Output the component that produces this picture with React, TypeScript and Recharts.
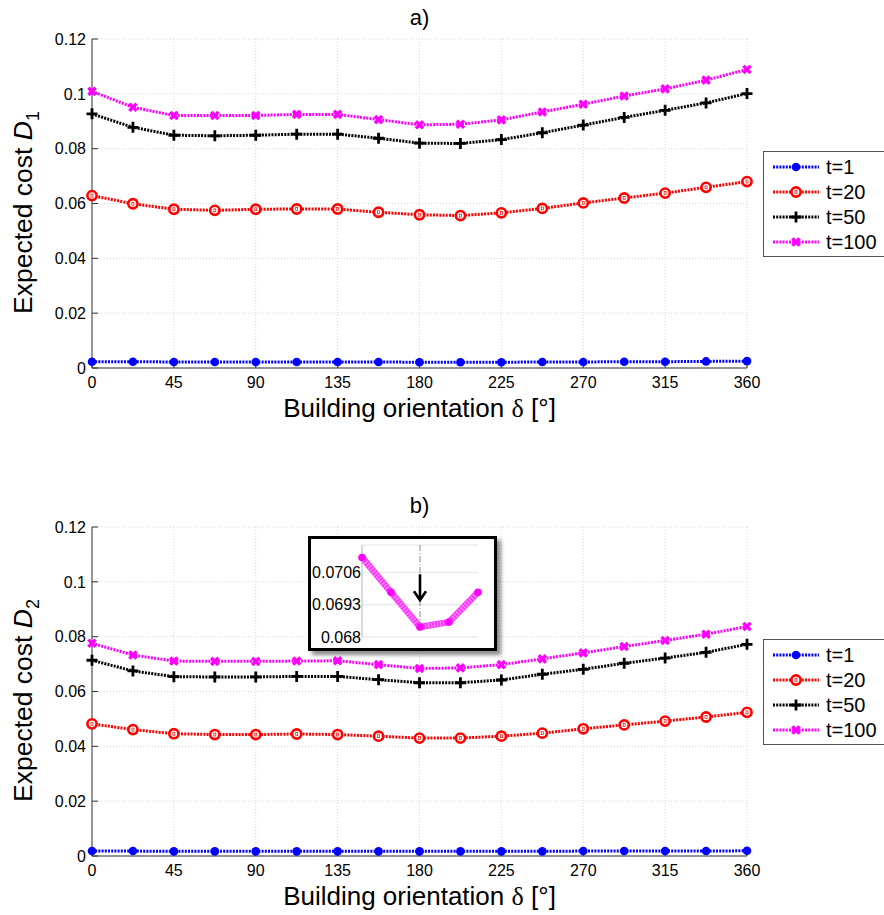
import {
  LineChart,
  Line,
  XAxis,
  YAxis,
  CartesianGrid,
  Legend,
  Label,
  ReferenceLine,
  ReferenceDot,
} from "recharts";

// orientation angles (deg)
const angles = [0, 22.5, 45, 67.5, 90, 112.5, 135, 157.5, 180, 202.5, 225, 247.5, 270, 292.5, 315, 337.5, 360];

// panel a) expected cost D1
const d1T1 = [0.0023, 0.0023, 0.0022, 0.0022, 0.0022, 0.0022, 0.0022, 0.0022, 0.0021, 0.0021, 0.0021, 0.0022, 0.0022, 0.0023, 0.0023, 0.0024, 0.0025];
const d1T20 = [0.0629, 0.0599, 0.0579, 0.0575, 0.0579, 0.058, 0.058, 0.0568, 0.0559, 0.0556, 0.0566, 0.0582, 0.0602, 0.062, 0.0638, 0.0659, 0.068];
const d1T50 = [0.0927, 0.0878, 0.0849, 0.0847, 0.0849, 0.0853, 0.0853, 0.0838, 0.082, 0.0819, 0.0833, 0.0858, 0.0886, 0.0914, 0.094, 0.0967, 0.1001];
const d1T100 = [0.1009, 0.0951, 0.0921, 0.0921, 0.0921, 0.0925, 0.0925, 0.0906, 0.0887, 0.0889, 0.0905, 0.0934, 0.0962, 0.0992, 0.1018, 0.105, 0.1089];

// panel b) expected cost D2
const d2T1 = [0.0018, 0.0018, 0.0017, 0.0017, 0.0017, 0.0017, 0.0017, 0.0017, 0.0017, 0.0017, 0.0017, 0.0017, 0.0018, 0.0018, 0.0018, 0.0018, 0.0019];
const d2T20 = [0.0482, 0.0461, 0.0446, 0.0443, 0.0443, 0.0445, 0.0443, 0.0437, 0.043, 0.043, 0.0437, 0.0448, 0.0464, 0.0478, 0.0492, 0.0507, 0.0524];
const d2T50 = [0.0714, 0.0675, 0.0654, 0.0653, 0.0653, 0.0655, 0.0655, 0.0643, 0.0632, 0.0632, 0.0642, 0.0663, 0.0681, 0.0703, 0.0722, 0.0743, 0.0772];
const d2T100 = [0.0776, 0.0733, 0.0711, 0.071, 0.071, 0.0711, 0.0712, 0.0698, 0.0684, 0.0686, 0.0698, 0.0719, 0.0741, 0.0764, 0.0786, 0.0809, 0.0837];

const xTicks = [0, 45, 90, 135, 180, 225, 270, 315, 360];
const yTicks = [0, 0.02, 0.04, 0.06, 0.08, 0.1, 0.12];

// zoom window of panel b
const insetFrom = 135;
const insetTo = 225;
const insetTicks = [0.068, 0.0693, 0.0706];
const insetMinAngle = 180;

const FONT = "'Liberation Sans', Arial, Helvetica, sans-serif";
const AXIS = "#333";

type MarkerKind = "dot" | "ring" | "plus" | "cross";

const SERIES: { key: string; name: string; color: string; marker: MarkerKind }[] = [
  { key: "t1", name: "t=1", color: "#0000ff", marker: "dot" },
  { key: "t20", name: "t=20", color: "#ff0000", marker: "ring" },
  { key: "t50", name: "t=50", color: "#000000", marker: "plus" },
  { key: "t100", name: "t=100", color: "#ff00ff", marker: "cross" },
];

function toRows(t1: number[], t20: number[], t50: number[], t100: number[]) {
  return angles.map((angle, i) => ({ angle, t1: t1[i], t20: t20[i], t50: t50[i], t100: t100[i] }));
}

const rowsA = toRows(d1T1, d1T20, d1T50, d1T100);
const rowsB = toRows(d2T1, d2T20, d2T50, d2T100);
const insetRows = rowsB.filter((r) => r.angle >= insetFrom && r.angle <= insetTo);

function Marker({ kind, color, cx, cy }: { kind: MarkerKind; color: string; cx: number; cy: number }) {
  if (cx == null || cy == null) return null;
  if (kind === "dot") return <circle cx={cx} cy={cy} r={4.3} fill={color} />;
  if (kind === "ring")
    return (
      <g>
        <circle cx={cx} cy={cy} r={4.6} fill="#fff" stroke={color} strokeWidth={2.6} />
        <rect x={cx - 1} y={cy - 1.5} width={2} height={3} fill="none" stroke={color} strokeWidth={0.7} />
      </g>
    );
  if (kind === "plus")
    return (
      <path d={`M${cx - 5.5},${cy}H${cx + 5.5}M${cx},${cy - 5.5}V${cy + 5.5}`} stroke={color} strokeWidth={2.8} />
    );
  return (
    <path
      d={`M${cx - 3.6},${cy - 3.6}L${cx + 3.6},${cy + 3.6}M${cx + 3.6},${cy - 3.6}L${cx - 3.6},${cy + 3.6}`}
      stroke={color}
      strokeWidth={3.4}
    />
  );
}

function BottomTick(p: any) {
  return (
    <text x={p.x} y={p.y} dy="0.71em" textAnchor="middle" fontSize={16} fontFamily={FONT} fill="#000">
      {p.payload.value}
    </text>
  );
}

function LeftTick(p: any) {
  return (
    <text x={p.x} y={p.y} dy="0.355em" textAnchor="end" fontSize={16} fontFamily={FONT} fill="#000">
      {String(p.payload.value)}
    </text>
  );
}

function LegendBox() {
  return (
    <div
      style={{
        width: 130,
        height: 106,
        boxSizing: "border-box",
        border: "1.5px solid #555",
        background: "#fff",
        paddingTop: 2,
        fontFamily: FONT,
      }}
    >
      {SERIES.map((s) => (
        <div key={s.key} style={{ display: "flex", alignItems: "center", height: 25, paddingLeft: 9 }}>
          <svg width={46} height={14} style={{ display: "block" }}>
            <line x1={0} y1={7} x2={46} y2={7} stroke={s.color} strokeWidth={3} strokeDasharray="2 1.2" />
            <Marker kind={s.marker} color={s.color} cx={23} cy={7} />
          </svg>
          <span style={{ fontSize: 20, marginLeft: 7, color: "#000", lineHeight: "20px" }}>{s.name}</span>
        </div>
      ))}
    </div>
  );
}

function Panel({ rows, sub }: { rows: typeof rowsA; sub: string }) {
  return (
    <LineChart width={884} height={427} data={rows} margin={{ top: 39, right: 137, bottom: 29, left: 32 }}>
      <CartesianGrid stroke="#d6d6d6" strokeDasharray="1 2" />
      <XAxis
        dataKey="angle"
        type="number"
        domain={[0, 360]}
        ticks={xTicks}
        interval={0}
        tickSize={-6}
        tickMargin={15}
        height={30}
        stroke={AXIS}
        tick={BottomTick}
      >
        <Label
          content={(p: any) => {
            const vb = p.viewBox;
            return (
              <text x={vb.x + vb.width / 2} y={vb.y + 48.5} textAnchor="middle" fontSize={26} fontFamily={FONT} fill="#000">
                Building orientation <tspan fontFamily="'Liberation Serif', serif">δ</tspan> [°]
              </text>
            );
          }}
        />
      </XAxis>
      <XAxis
        xAxisId="top"
        orientation="top"
        dataKey="angle"
        type="number"
        domain={[0, 360]}
        ticks={xTicks}
        interval={0}
        tick={false}
        tickSize={-6}
        height={0}
        stroke={AXIS}
      />
      <YAxis
        type="number"
        domain={[0, 0.12]}
        ticks={yTicks}
        interval={0}
        tickSize={-6}
        tickMargin={12}
        width={60}
        stroke={AXIS}
        tick={LeftTick}
      >
        <Label
          content={(p: any) => {
            const vb = p.viewBox;
            const bx = vb.x;
            const cy = vb.y + vb.height / 2 + 9;
            return (
              <text
                x={bx}
                y={cy}
                transform={`rotate(-90 ${bx} ${cy})`}
                textAnchor="middle"
                fontSize={26.5}
                fontFamily={FONT}
                fill="#000"
              >
                Expected cost <tspan fontStyle="italic">D</tspan>
                <tspan fontSize={18} dy={7}>
                  {sub}
                </tspan>
              </text>
            );
          }}
        />
      </YAxis>
      <YAxis
        yAxisId="right"
        orientation="right"
        type="number"
        domain={[0, 0.12]}
        ticks={yTicks}
        interval={0}
        tick={false}
        tickSize={-6}
        width={0}
        stroke={AXIS}
      />
      {SERIES.map((s) => (
        <Line
          key={s.key}
          type="linear"
          dataKey={s.key}
          name={s.name}
          stroke={s.color}
          strokeWidth={3}
          strokeDasharray="2 1.2"
          activeDot={false}
          isAnimationActive={false}
          dot={(p: any) => <Marker key={`${s.key}-${p.index}`} kind={s.marker} color={s.color} cx={p.cx} cy={p.cy} />}
        />
      ))}
      <Legend
        layout="horizontal"
        align="center"
        verticalAlign="middle"
        wrapperStyle={{ left: 763, top: 151, width: 130, height: 106 }}
        content={() => <LegendBox />}
      />
    </LineChart>
  );
}

function Inset() {
  const frame = "#b3b3b3";
  return (
    <div
      style={{
        position: "absolute",
        left: 308,
        top: 536,
        width: 189,
        height: 115,
        boxSizing: "border-box",
        border: "3px solid #000",
        background: "#fff",
        boxShadow: "4px 4px 4px rgba(0,0,0,0.45)",
      }}
    >
      <LineChart width={183} height={109} data={insetRows} margin={{ top: 6, right: 16, bottom: 11, left: 0 }}>
        <CartesianGrid vertical={false} stroke="#e2e2e2" />
        <XAxis dataKey="angle" type="number" domain={[insetFrom, insetTo]} tick={false} tickLine={false} height={0} stroke={frame} />
        <XAxis
          xAxisId="top"
          orientation="top"
          dataKey="angle"
          type="number"
          domain={[insetFrom, insetTo]}
          tick={false}
          tickLine={false}
          height={0}
          stroke={frame}
        />
        <YAxis
          type="number"
          domain={[0.068, 0.0717]}
          ticks={insetTicks}
          interval={0}
          allowDataOverflow
          tickSize={0}
          tickMargin={1}
          width={51}
          stroke={frame}
          tick={LeftTick}
        />
        <YAxis
          yAxisId="right"
          orientation="right"
          type="number"
          domain={[0.068, 0.0717]}
          allowDataOverflow
          tick={false}
          tickLine={false}
          width={0}
          stroke={frame}
        />
        <ReferenceLine
          segment={[
            { x: insetMinAngle, y: 0.0717 },
            { x: insetMinAngle, y: 0.0684 },
          ]}
          stroke="#8a8a8a"
          strokeDasharray="6 2 1 2"
        />
        <Line
          type="linear"
          dataKey="t100"
          stroke="#ff33ff"
          strokeWidth={6.5}
          activeDot={false}
          isAnimationActive={false}
          dot={(p: any) => <circle key={`in-${p.index}`} cx={p.cx} cy={p.cy} r={3.8} fill="#ff00ff" />}
        />
        <Line
          type="linear"
          dataKey="t100"
          stroke="#ffa8ff"
          strokeWidth={5}
          strokeDasharray="1 2"
          activeDot={false}
          dot={false}
          isAnimationActive={false}
        />
        <ReferenceDot
          x={insetMinAngle}
          y={0.07}
          shape={(p: any) => (
            <path
              d={`M${p.cx},${p.cy - 13}V${p.cy + 13}M${p.cx - 6},${p.cy + 4}L${p.cx},${p.cy + 13}L${p.cx + 6},${p.cy + 4}`}
              stroke="#000"
              strokeWidth={2.6}
              fill="none"
            />
          )}
        />
      </LineChart>
    </div>
  );
}

function Title({ top, text }: { top: number; text: string }) {
  return (
    <svg width={884} height={32} style={{ position: "absolute", left: 0, top, display: "block" }}>
      <text x={419.5} y={25} textAnchor="middle" fontSize={22} fontFamily={FONT} fill="#000">
        {text}
      </text>
    </svg>
  );
}

export default function App() {
  return (
    <div
      style={{
        position: "absolute",
        left: 0,
        top: 0,
        width: 884,
        height: 915,
        overflow: "hidden",
        background: "#fff",
        fontFamily: FONT,
      }}
    >
      <div style={{ position: "absolute", left: 0, top: 0 }}>
        <Panel rows={rowsA} sub="1" />
      </div>
      <div style={{ position: "absolute", left: 0, top: 488 }}>
        <Panel rows={rowsB} sub="2" />
      </div>
      <Title top={0} text="a)" />
      <Title top={488} text="b)" />
      <Inset />
    </div>
  );
}
